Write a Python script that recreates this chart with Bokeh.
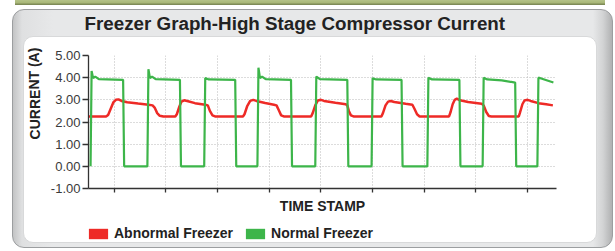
from bokeh.plotting import figure
from bokeh.layouts import column
from bokeh.models import (FixedTicker, NumeralTickFormatter, Range1d, Label, Legend, LegendItem,
                          InlineStyleSheet)
from bokeh.embed import file_html
from bokeh.resources import INLINE

# ---------------- data ----------------
title_text = "Freezer Graph-High Stage Compressor Current"
y_label = "CURRENT (A)"
x_label = "TIME STAMP"
series_names = ["Abnormal Freezer", "Normal Freezer"]

time_abnormal = [0.0, 3.4, 3.8, 4.3, 4.8, 5.3, 5.8, 6.4, 7.5, 9.6, 11.6, 12.4, 12.8, 13.3, 13.8, 14.5,
                 16.8, 17.1, 17.6, 18.0, 18.5, 19.1, 20.6, 22.6, 23.1, 23.5, 24.0, 24.5,
                 29.9, 30.2, 30.7, 31.3, 31.9, 32.5, 34.2, 35.9, 36.4, 36.8, 37.3, 37.8,
                 43.1, 43.4, 43.9, 44.4, 45.0, 45.6, 47.8, 49.8, 50.1, 50.4, 50.8, 51.3,
                 56.7, 57.0, 57.5, 58.0, 58.5, 59.2, 61.4, 62.7, 63.1, 63.6, 64.1,
                 69.8, 70.1, 70.5, 70.9, 71.3, 71.9, 73.5, 76.1, 76.5, 77.0, 77.5, 78.0,
                 83.3, 83.5, 84.0, 84.4, 85.0, 85.6, 87.1, 88.6, 89.9]
current_abnormal = [2.25, 2.25, 2.32, 2.6, 2.88, 3.0, 3.02, 2.95, 2.89, 2.83, 2.78, 2.75, 2.65, 2.4, 2.28, 2.25,
                    2.25, 2.35, 2.7, 2.92, 2.98, 2.95, 2.85, 2.78, 2.75, 2.5, 2.3, 2.25,
                    2.25, 2.35, 2.7, 2.95, 3.0, 2.95, 2.86, 2.78, 2.75, 2.55, 2.3, 2.25,
                    2.25, 2.4, 2.75, 2.97, 3.0, 2.95, 2.87, 2.8, 2.75, 2.5, 2.3, 2.25,
                    2.25, 2.4, 2.75, 2.92, 2.95, 2.9, 2.82, 2.78, 2.6, 2.35, 2.25,
                    2.25, 2.45, 2.8, 3.0, 3.05, 2.98, 2.9, 2.82, 2.75, 2.45, 2.27, 2.25,
                    2.25, 2.4, 2.8, 2.97, 3.0, 2.95, 2.85, 2.8, 2.75]

time_normal = [0.4, 0.6, 0.9, 1.3, 2.0, 6.7, 6.9,
               11.4, 11.6, 11.9, 12.3, 13.0, 17.7, 17.9,
               22.4, 22.6, 23.3, 28.4, 28.6,
               32.7, 32.9, 33.2, 33.6, 34.3, 39.2, 39.4,
               43.9, 44.1, 44.8, 50.1, 50.3,
               54.8, 55.0, 55.7, 60.6, 60.8,
               65.6, 65.8, 66.5, 71.8, 72.0,
               76.3, 76.5, 77.2, 80.0, 82.6, 82.8,
               86.9, 87.1, 87.8, 90.0]
current_normal = [0.0, 4.3, 3.98, 4.05, 3.93, 3.9, 0.0,
                  0.0, 4.38, 3.98, 4.05, 3.93, 3.9, 0.0,
                  0.0, 3.98, 3.92, 3.9, 0.0,
                  0.0, 4.45, 3.98, 4.05, 3.93, 3.9, 0.0,
                  0.0, 4.05, 3.93, 3.9, 0.0,
                  0.0, 3.97, 3.92, 3.9, 0.0,
                  0.0, 4.0, 3.92, 3.9, 0.0,
                  0.0, 4.0, 3.92, 3.88, 3.78, 0.0,
                  0.0, 4.0, 3.95, 3.78]

y_ticks = [-1, 0, 1, 2, 3, 4, 5]
x_ticks = [5, 15, 25, 35, 45, 55, 65, 75, 85]

RED = "#ee2a26"
GREEN = "#3db54a"
FONT = "Liberation Sans"

# panel look: olive strip at the top, grey rounded panel, white rounded card
panel_css = InlineStyleSheet(css="""
:host {
  isolation: isolate; position: relative; overflow: visible;
  background: linear-gradient(to bottom, #b4c288 0px, #a7b677 3px, #7e8b57 4px, #7e8b57 5px)
              15px 0px / 590px 5px no-repeat;
}
:host::before {
  content: ""; position: absolute; z-index: -2;
  left: 12px; top: 9px; width: 601px; height: 239px; box-sizing: border-box;
  border: 1.5px solid #9c9ea0; border-radius: 12px;
  background: linear-gradient(to right, #c3c4c5 0px, #dfe0e1 9px, #e7e8e9 40px,
                              #e7e8e9 580px, #d2d3d4 590px, #a9aaab 601px);
}
:host::after {
  content: ""; position: absolute; z-index: -1;
  left: 23px; top: 36px; width: 574px; height: 207px; box-sizing: border-box;
  border: 1px solid #d8d9da; border-radius: 10px; background: #ffffff;
}
""")

# ---------------- main chart ----------------
fig = figure(frame_width=468, frame_height=133,
             min_border_left=88, min_border_right=59, min_border_top=55, min_border_bottom=27,
             x_range=Range1d(0, 90.6), y_range=Range1d(-1, 5),
             output_backend="svg", toolbar_location=None,
             background_fill_color="white", border_fill_color=None)
fig.outline_line_color = None

# grids
fig.xgrid.ticker = FixedTicker(ticks=x_ticks)
fig.ygrid.ticker = FixedTicker(ticks=y_ticks)
for g in (fig.xgrid, fig.ygrid):
    g.grid_line_color = "#b8b8b8"
    g.grid_line_dash = "1 2"
    g.grid_line_width = 1

# axes
fig.yaxis.ticker = FixedTicker(ticks=y_ticks)
fig.yaxis.formatter = NumeralTickFormatter(format="0.00")
fig.yaxis.major_label_text_font = FONT
fig.yaxis.major_label_text_font_size = "13px"
fig.yaxis.major_label_text_color = "#3a3a3a"
fig.yaxis.major_tick_out = 6
fig.yaxis.major_tick_in = 0
fig.yaxis.major_label_standoff = 2
fig.yaxis.minor_tick_line_color = None

fig.xaxis.ticker = FixedTicker(ticks=x_ticks)
fig.xaxis.major_label_text_font_size = "0px"
fig.xaxis.major_label_text_color = None
fig.xaxis.major_label_standoff = 0
fig.xaxis.major_tick_out = 4
fig.xaxis.major_tick_in = 0
fig.xaxis.minor_tick_line_color = None
fig.xaxis.axis_label = x_label
fig.xaxis.axis_label_text_font = FONT
fig.xaxis.axis_label_text_font_style = "bold"
fig.xaxis.axis_label_text_font_size = "14px"
fig.xaxis.axis_label_text_color = "#222222"
fig.xaxis.axis_label_standoff = 5

for ax in (fig.xaxis, fig.yaxis):
    ax.axis_line_color = "#333333"
    ax.axis_line_width = 1.3
    ax.major_tick_line_color = "#333333"
    ax.major_tick_line_width = 1.3

# series
fig.line(time_abnormal, current_abnormal, line_color=RED, line_width=2.5)
fig.line(time_normal, current_normal, line_color=GREEN, line_width=2.2)

# chart title, placed in the panel above the frame
fig.add_layout(Label(x=-4, y=32, x_units="screen", y_units="screen", text=title_text,
                     text_align="left", text_baseline="alphabetic",
                     text_font=FONT, text_font_style="bold", text_font_size="18.8px",
                     text_color="#222222"), "above")

# y axis title, placed in the left panel
fig.add_layout(Label(x=3, y=95, x_units="screen", y_units="screen", text=y_label, angle=1.5708,
                     text_align="center", text_baseline="middle",
                     text_font=FONT, text_font_style="bold", text_font_size="14px",
                     text_color="#222222"), "left")

# ---------------- legend strip ----------------
leg = figure(width=615, height=36, min_border=0, x_range=Range1d(0, 1), y_range=Range1d(0, 1),
             output_backend="svg", toolbar_location=None,
             x_axis_location=None, y_axis_location=None,
             background_fill_color=None, border_fill_color=None)
leg.outline_line_color = None
leg.grid.visible = False
# swatch proxies (kept outside the visible range; only their legend glyph shows)
sw_red = leg.quad(left=[-3], right=[-2], top=[-2], bottom=[-3], fill_color=RED, line_color=None)
sw_green = leg.quad(left=[-3], right=[-2], top=[-2], bottom=[-3], fill_color=GREEN, line_color=None)
legend = Legend(items=[LegendItem(label=series_names[0], renderers=[sw_red]),
                       LegendItem(label=series_names[1], renderers=[sw_green])],
                orientation="horizontal", location=(-2, 11),
                padding=0, margin=0, border_line_color=None, background_fill_alpha=0,
                glyph_width=24, glyph_height=13, label_standoff=4, spacing=10,
                label_text_font=FONT, label_text_font_style="bold",
                label_text_font_size="14px", label_text_color="#222222")
leg.add_layout(legend)

p = column(fig, leg, spacing=0, stylesheets=[panel_css])

open("out.html", "w").write(file_html(p, INLINE))
